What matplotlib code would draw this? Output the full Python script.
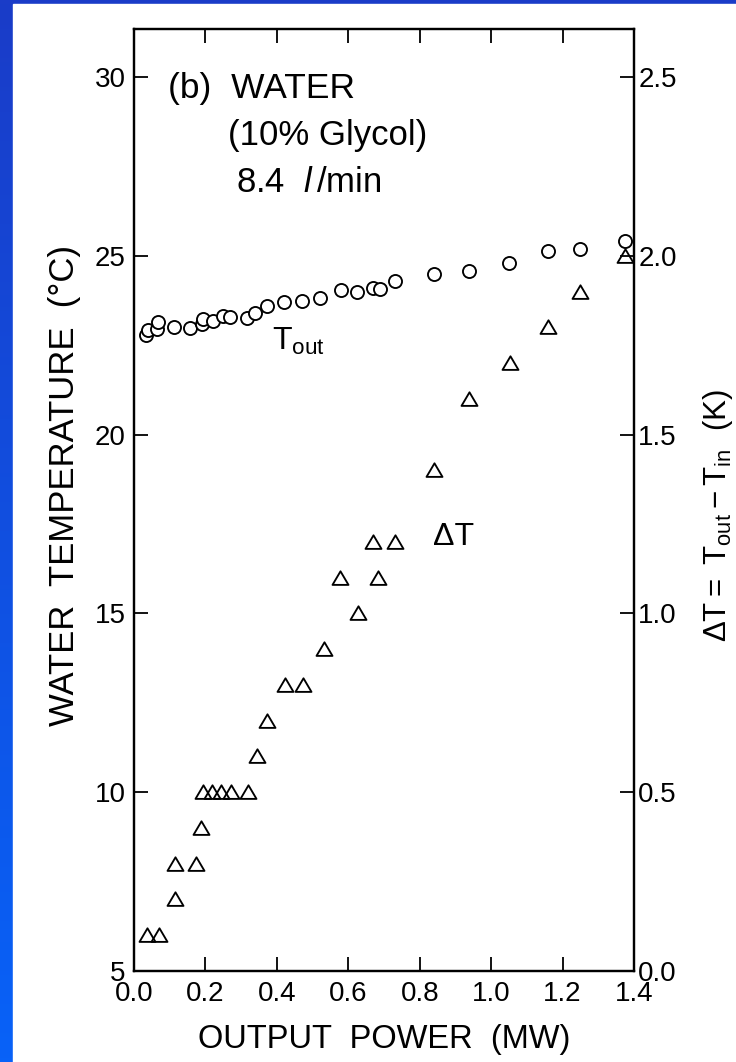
import numpy as np
import matplotlib
matplotlib.use("Agg")
import matplotlib.pyplot as plt
from matplotlib.patches import Rectangle
from matplotlib.path import Path

# Outlet water temperature T_out (deg C) vs output power (MW)
power_tout = [0.033, 0.040, 0.063, 0.068, 0.112, 0.157, 0.189, 0.192, 0.221,
              0.248, 0.268, 0.317, 0.340, 0.371, 0.420, 0.469, 0.522, 0.579,
              0.624, 0.669, 0.690, 0.730, 0.839, 0.938, 1.049, 1.160, 1.250,
              1.375]
t_out = [22.78, 22.92, 22.95, 23.16, 23.02, 22.99, 23.09, 23.23, 23.18,
         23.32, 23.29, 23.27, 23.41, 23.60, 23.72, 23.74, 23.81, 24.04,
         24.00, 24.11, 24.06, 24.30, 24.49, 24.58, 24.81, 25.14, 25.18,
         25.40]

# Temperature rise dT = T_out - T_in (K) vs output power (MW)
power_dt = [0.035, 0.070, 0.115, 0.115, 0.174, 0.187, 0.192, 0.219, 0.244,
            0.272, 0.320, 0.344, 0.372, 0.422, 0.474, 0.533, 0.578, 0.626,
            0.670, 0.683, 0.732, 0.839, 0.938, 1.052, 1.160, 1.249, 1.375]
delta_t = [0.1, 0.1, 0.2, 0.3, 0.3, 0.4, 0.5, 0.5, 0.5,
           0.5, 0.5, 0.6, 0.7, 0.8, 0.8, 0.9, 1.1, 1.0,
           1.2, 1.1, 1.2, 1.4, 1.6, 1.7, 1.8, 1.9, 2.0]

x_ticks = [0.0, 0.2, 0.4, 0.6, 0.8, 1.0, 1.2, 1.4]
t_ticks = [5, 10, 15, 20, 25, 30]
dt_ticks = [0.0, 0.5, 1.0, 1.5, 2.0, 2.5]

plt.rcParams["font.family"] = ["Liberation Sans", "DejaVu Sans"]
plt.rcParams["mathtext.fontset"] = "custom"
plt.rcParams["mathtext.rm"] = "Liberation Sans"
plt.rcParams["mathtext.it"] = "Liberation Sans:italic"
plt.rcParams["mathtext.bf"] = "Liberation Sans:bold"

W, H = 736, 1062
fig = plt.figure(figsize=(W / 100, H / 100), dpi=100)

# blue slide background with white panel
bg = fig.add_axes([0, 0, 1, 1], zorder=-10)
grad = np.linspace(0, 1, 256).reshape(-1, 1)
top_c = np.array([0x1a, 0x3c, 0xc8]) / 255
bot_c = np.array([0x08, 0x62, 0xf8]) / 255
img = top_c + (bot_c - top_c) * grad[:, :, None]
bg.imshow(img, aspect="auto", extent=[0, 1, 0, 1])
bg.add_patch(Rectangle((13 / W, 0), 1, 1 - 4 / H, color="white"))
bg.set_xlim(0, 1)
bg.set_ylim(0, 1)
bg.axis("off")

left, right, bottom, top = 134, 634, 971, 29
ax = fig.add_axes([left / W, 1 - bottom / H, (right - left) / W, (bottom - top) / H])
ax.set_facecolor("none")

ylo = 5.0
yhi = 5.0 + (bottom - top) / ((bottom - 77) / 25.0)
ax.set_xlim(0, 1.4)
ax.set_ylim(ylo, yhi)

ax2 = ax.twinx()
ax2.set_ylim((ylo - 5) / 10, (yhi - 5) / 10)

tri = Path([(-1, -0.8), (1, -0.8), (0, 0.9), (-1, -0.8)],
           [Path.MOVETO, Path.LINETO, Path.LINETO, Path.CLOSEPOLY])
ax.plot(power_tout, t_out, "o", ms=9.4, mfc="white", mec="black", mew=1.35,
        zorder=3)
ax2.plot(power_dt, delta_t, marker=tri, ls="none", ms=11.5, mfc="none",
         mec="black", mew=1.35, zorder=3)

ax.set_xticks(x_ticks)
ax.set_xticklabels([f"{v:.1f}" for v in x_ticks])
ax.set_yticks(t_ticks)
ax2.set_yticks(dt_ticks)
ax2.set_yticklabels([f"{v:.1f}" for v in dt_ticks])

for a in (ax, ax2):
    for s in a.spines.values():
        s.set_linewidth(1.6)
ax.tick_params(axis="x", direction="in", length=10, width=1.3, top=True,
               labelsize=20, pad=7)
ax.tick_params(axis="y", direction="in", length=10, width=1.3, right=False,
               labelsize=20, pad=6)
ax2.tick_params(axis="y", direction="in", length=10, width=1.3,
                labelsize=20, pad=3)

ax.set_xlabel("OUTPUT  POWER  (MW)", fontsize=23.5)
ax.xaxis.set_label_coords(0.5, -0.056)
ax.set_ylabel("WATER  TEMPERATURE  (°C)", fontsize=25)
ax.yaxis.set_label_coords(-0.106, 0.515)
ax2.set_ylabel(r"$\mathregular{\Delta T{=}\ T_{out} - T_{in}}$  (K)", fontsize=22.5)
ax2.yaxis.set_label_coords(1.134, 0.484)

ax.text(0.068, 0.927, "(b)  WATER", transform=ax.transAxes, fontsize=25.5,
        va="baseline")
ax.text(0.188, 0.877, "(10% Glycol)", transform=ax.transAxes, fontsize=25,
        va="baseline")
ax.text(0.204, 0.827, r"8.4  $\mathit{l}\,$/min", transform=ax.transAxes,
        fontsize=25, va="baseline")
ax.text(0.276, 0.659, r"$\mathregular{T_{out}}$", transform=ax.transAxes,
        fontsize=23, va="baseline")
ax.text(0.598, 0.452, "\u0394T", transform=ax.transAxes, fontsize=23,
        va="baseline")

fig.savefig("out.png", dpi=100)
